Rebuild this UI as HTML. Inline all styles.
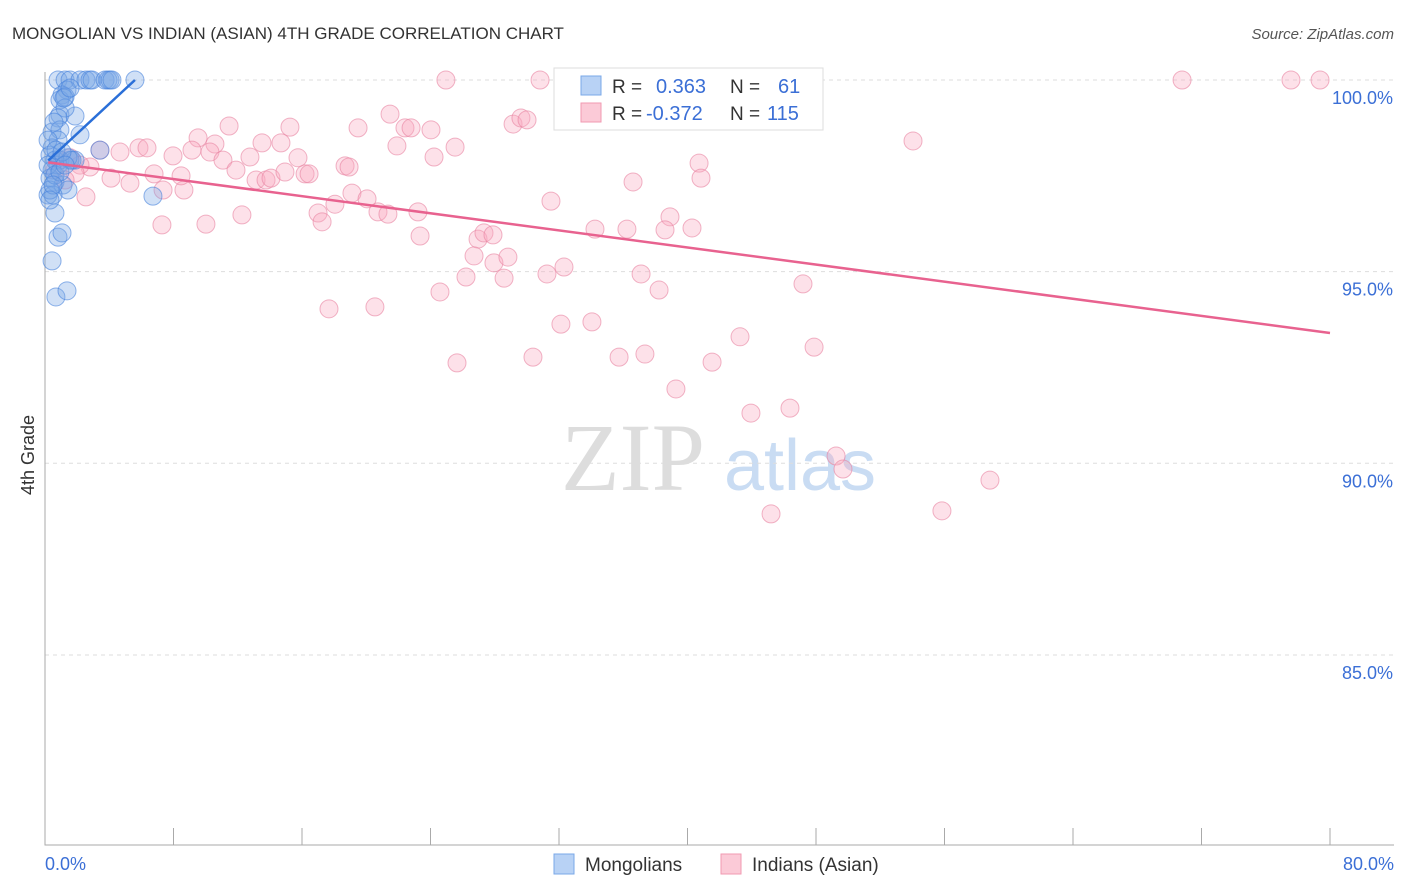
<!DOCTYPE html>
<html><head><meta charset="utf-8"><style>
body{margin:0;background:#fff;font-family:"Liberation Sans",sans-serif;}
svg{display:block}
</style></head><body>
<svg id="chart" width="1406" height="892">
<text x="12" y="39" font-size="17" fill="#333">MONGOLIAN VS INDIAN (ASIAN) 4TH GRADE CORRELATION CHART</text>
<text x="1394" y="39" font-size="15" fill="#555" text-anchor="end" font-style="italic">Source: ZipAtlas.com</text>
<g><text x="633" y="490" font-size="96" fill="#ddd" text-anchor="middle" font-family="Liberation Serif,serif">ZIP</text><text x="800" y="490" font-size="72" fill="#c9dcf3" text-anchor="middle">atlas</text></g>
<g id="grid"></g><g id="axes"></g><g id="pts"></g><g id="lines"></g>
<text transform="translate(34,455) rotate(-90)" font-size="18" fill="#333" text-anchor="middle">4th Grade</text>
<text x="45" y="870" font-size="18" fill="#3b6fd6">0.0%</text>
<text x="1394" y="870" font-size="18" fill="#3b6fd6" text-anchor="end">80.0%</text>
<g>
<rect x="554" y="68" width="269" height="62" fill="#fff" stroke="#ddd"/>
<rect x="581" y="76" width="20" height="19" fill="#b8d2f5" stroke="#7aa8e8"/>
<rect x="581" y="103" width="20" height="19" fill="#fbcad7" stroke="#f09ab2"/>
<text x="612" y="93" font-size="19" fill="#333">R =</text><text x="656" y="93" font-size="20" fill="#3b6fd6">0.363</text>
<text x="730" y="93" font-size="19" fill="#333">N =</text><text x="778" y="93" font-size="20" fill="#3b6fd6">61</text>
<text x="612" y="120" font-size="19" fill="#333">R =</text><text x="646" y="120" font-size="20" fill="#3b6fd6">-0.372</text>
<text x="730" y="120" font-size="19" fill="#333">N =</text><text x="767" y="120" font-size="20" fill="#3b6fd6">115</text>
</g>
<g>
<rect x="554" y="854" width="20" height="20" fill="#b8d2f5" stroke="#7aa8e8"/>
<text x="585" y="871" font-size="19" fill="#333">Mongolians</text>
<rect x="721" y="854" width="20" height="20" fill="#fbcad7" stroke="#f09ab2"/>
<text x="752" y="871" font-size="19" fill="#333">Indians (Asian)</text>
</g>
</svg>
<script>
const yTicks=[100,95,90,85];
const yTickLabels=["100.0%","95.0%","90.0%","85.0%"];
const xTicks=[0,8,16,24,32,40,48,56,64,72,80];
const pinkPx=[[446,80],[540,80],[790,80],[797,80],[1182,80],[1291,80],[1320,80],[390,114],[913,141],[229,126],[290,127],[358,128],[405,128],[411,128],[431,130],[513,124],[521,118],[527,120],[198,138],[215,144],[262,143],[281,143],[139,148],[147,148],[120,152],[100,150],[192,150],[210,152],[173,156],[223,160],[250,157],[298,158],[345,166],[349,167],[397,146],[434,157],[455,147],[699,163],[701,178],[633,182],[163,190],[184,190],[130,183],[111,178],[90,167],[80,165],[75,173],[86,197],[154,174],[181,176],[236,170],[256,180],[266,180],[271,178],[285,172],[305,174],[309,174],[352,193],[335,204],[367,199],[378,212],[388,214],[418,212],[318,213],[322,222],[162,225],[206,224],[242,215],[551,201],[670,217],[595,229],[627,229],[665,230],[692,228],[420,236],[478,239],[484,233],[493,235],[474,256],[494,263],[508,257],[564,267],[547,274],[466,277],[504,278],[641,274],[659,290],[803,284],[440,292],[329,309],[375,307],[561,324],[592,322],[740,337],[814,347],[457,363],[533,357],[619,357],[645,354],[712,362],[676,389],[751,413],[790,408],[836,456],[843,469],[990,480],[771,514],[942,511],[60,160],[70,158],[55,170],[65,180]];
const bluePx=[[58,80],[65,80],[70,80],[80,80],[86,80],[90,80],[92,80],[105,80],[108,80],[110,80],[112,80],[135,80],[67,90],[62,95],[60,100],[65,97],[60,115],[75,116],[65,108],[58,118],[52,132],[60,130],[80,135],[58,140],[52,148],[50,155],[55,160],[60,160],[70,160],[75,160],[58,165],[52,170],[50,178],[55,182],[63,185],[68,190],[48,195],[53,195],[100,150],[55,213],[153,196],[58,237],[62,233],[52,261],[56,297],[67,291],[50,190],[48,165],[55,175],[60,172],[68,158],[72,160],[64,98],[70,88],[54,122],[48,140],[53,185],[56,150],[62,152],[65,165],[50,200]];
// convert read positions into data values (x %, y %)
const toVal=p=>[+((p[0]-45)/16.0625).toFixed(2),+(100-(p[1]-80)/38.33).toFixed(2)];
const indianX=pinkPx.map(p=>toVal(p)[0]), indianY=pinkPx.map(p=>toVal(p)[1]);
const mongolX=bluePx.map(p=>toVal(p)[0]), mongolY=bluePx.map(p=>toVal(p)[1]);
const blueTrend=[[0.2,97.9],[5.6,100]];
const pinkTrend=[[0.2,97.85],[80,93.4]];
const X=v=>45+v*16.0625, Y=v=>80+(100-v)*38.33;
const NS="http://www.w3.org/2000/svg";
function mk(t,a,parent){const e=document.createElementNS(NS,t);for(const k in a)e.setAttribute(k,a[k]);parent.appendChild(e);return e;}
const grid=document.getElementById('grid'),axes=document.getElementById('axes'),pts=document.getElementById('pts'),lines=document.getElementById('lines');
yTicks.forEach((t,i)=>{
 const l=mk('line',{x1:45,x2:1394,y1:Y(t),y2:Y(t),stroke:'#ddd','stroke-dasharray':'4,4'},grid);
 
 
 const tx=mk('text',{x:1393,y:Y(t)+24,'font-size':18,fill:'#3b6fd6','text-anchor':'end'},grid);
 tx.textContent=yTickLabels[i];
 
 
});
const ax=mk('path',{d:'M45 72V845H1394',stroke:'#aaa',fill:'none'},axes);


xTicks.forEach(t=>{const l=mk('line',{x1:X(t),x2:X(t),y1:828,y2:845,stroke:'#aaa'},axes);
 
 });
indianX.forEach((x,i)=>{const c=mk('circle',{cx:X(x),cy:Y(indianY[i]),r:9,fill:'rgba(248,170,192,0.35)',stroke:'rgba(232,130,160,0.6)'},pts);
 
 });
mongolX.forEach((x,i)=>{const c=mk('circle',{cx:X(x),cy:Y(mongolY[i]),r:9,fill:'rgba(120,165,230,0.35)',stroke:'rgba(70,130,220,0.6)'},pts);
 
 });
const bl=mk('line',{x1:X(blueTrend[0][0]),y1:Y(blueTrend[0][1]),x2:X(blueTrend[1][0]),y2:Y(blueTrend[1][1]),stroke:'#2a6fd8','stroke-width':2.5},lines);


const pl=mk('line',{x1:X(pinkTrend[0][0]),y1:Y(pinkTrend[0][1]),x2:X(pinkTrend[1][0]),y2:Y(pinkTrend[1][1]),stroke:'#e8628f','stroke-width':2.5},lines);


</script>
</body></html>
